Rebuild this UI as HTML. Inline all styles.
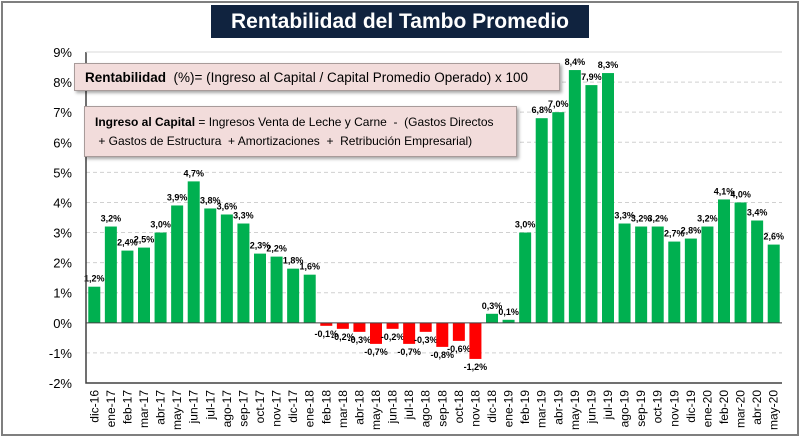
<!DOCTYPE html>
<html><head><meta charset="utf-8"><style>
body{margin:0;background:#fff;}
#wrap{position:relative;width:800px;height:437px;overflow:hidden;font-family:"Liberation Sans",sans-serif;}
#frame{position:absolute;left:1px;top:1px;width:794px;height:431px;border:2px solid #7f7f7f;}
#title{position:absolute;left:211px;top:5px;width:378px;height:33px;background:#10233f;color:#fff;font-weight:bold;font-size:21px;line-height:33px;text-align:center;white-space:nowrap;}
.box{position:absolute;background:#f2dcdb;border:1px solid #a89b9a;box-shadow:2px 2px 3px rgba(0,0,0,0.35);color:#000;white-space:nowrap;}
</style></head><body>
<div id="wrap">
<div id="frame"></div>
<svg id="chart" width="800" height="437" style="position:absolute;left:0;top:0"></svg>
<div id="title">Rentabilidad del Tambo Promedio</div>
<div class="box" style="left:74px;top:63px;width:486px;height:28px;line-height:28px;padding-left:10px;box-sizing:border-box;font-size:13.5px"><b>Rentabilidad</b>&nbsp; (%)= (Ingreso al Capital / Capital Promedio Operado) x 100</div>
<div class="box" style="left:84px;top:106px;width:433px;height:51px;padding:6px 0 0 10px;box-sizing:border-box;line-height:19px;font-size:12px"><b>Ingreso al Capital</b> = Ingresos Venta de Leche y Carne&nbsp; -&nbsp; (Gastos Directos<br>&nbsp;+ Gastos de Estructura&nbsp; + Amortizaciones&nbsp; +&nbsp; Retribución Empresarial)</div>
</div>
<script>
const categories=["dic-16","ene-17","feb-17","mar-17","abr-17","may-17","jun-17","jul-17","ago-17","sep-17","oct-17","nov-17","dic-17","ene-18","feb-18","mar-18","abr-18","may-18","jun-18","jul-18","ago-18","sep-18","oct-18","nov-18","dic-18","ene-19","feb-19","mar-19","abr-19","may-19","jun-19","jul-19","ago-19","sep-19","oct-19","nov-19","dic-19","ene-20","feb-20","mar-20","abr-20","may-20"];
const values=[1.2,3.2,2.4,2.5,3.0,3.9,4.7,3.8,3.6,3.3,2.3,2.2,1.8,1.6,-0.1,-0.2,-0.3,-0.7,-0.2,-0.7,-0.3,-0.8,-0.6,-1.2,0.3,0.1,3.0,6.8,7.0,8.4,7.9,8.3,3.3,3.2,3.2,2.7,2.8,3.2,4.1,4.0,3.4,2.6];
const yTicks=[-2,-1,0,1,2,3,4,5,6,7,8,9];
const svg=document.getElementById('chart');const NS="http://www.w3.org/2000/svg";
const L=86,R=782,T=52,B=383,yMin=-2,yMax=9;
const y=v=>B-(v-yMin)/(yMax-yMin)*(B-T);
const step=(R-L)/categories.length;
const x=i=>L+i*step;
function mk(t,a,p){const e=document.createElementNS(NS,t);for(const k in a)e.setAttribute(k,a[k]);(p||svg).appendChild(e);return e;}
const g=mk('g',{});
yTicks.forEach(t=>{
 if(t!==yMin&&t!==0){mk('line',{x1:L,x2:R,y1:y(t),y2:y(t),stroke:'#d0d0d0','stroke-dasharray':'4,3'},g);}
 const tx=mk('text',{x:L-14,y:y(t)+5,'text-anchor':'end','font-size':'13',fill:'#000'});tx.textContent=t+'%';
 
});
values.forEach((v,i)=>{
 const bw=12,bx=x(i)+(step-bw)/2;
 const r=mk('rect',{x:bx,y:Math.min(y(v),y(0)),width:bw,height:Math.abs(y(v)-y(0)),fill:v>=0?'#00b050':'#ff0000'});
 
 const lb=mk('text',{x:bx+bw/2,y:v>=0?y(v)-5:y(v)+11,'text-anchor':'middle','font-size':'9','font-weight':'bold',fill:'#000'});
 lb.textContent=v.toFixed(1).replace('.',',')+'%';
 
 const cx=x(i)+step/2+4;
 const ct=mk('text',{x:cx,y:390,'text-anchor':'end','font-size':'12',fill:'#000',transform:`rotate(-90 ${cx} 390)`});
 ct.textContent=categories[i];
 
});
const ax=mk('path',{d:`M${L},${T} L${L},${B} L${R},${B}`,fill:'none',stroke:'#404040','stroke-width':'1.5'});

const topLine=mk('line',{x1:L,x2:R,y1:T,y2:T,stroke:'#d9d9d9'});

const zero=mk('line',{x1:L,x2:R,y1:y(0),y2:y(0),stroke:'#404040','stroke-width':'1'});

</script>
</body></html>
